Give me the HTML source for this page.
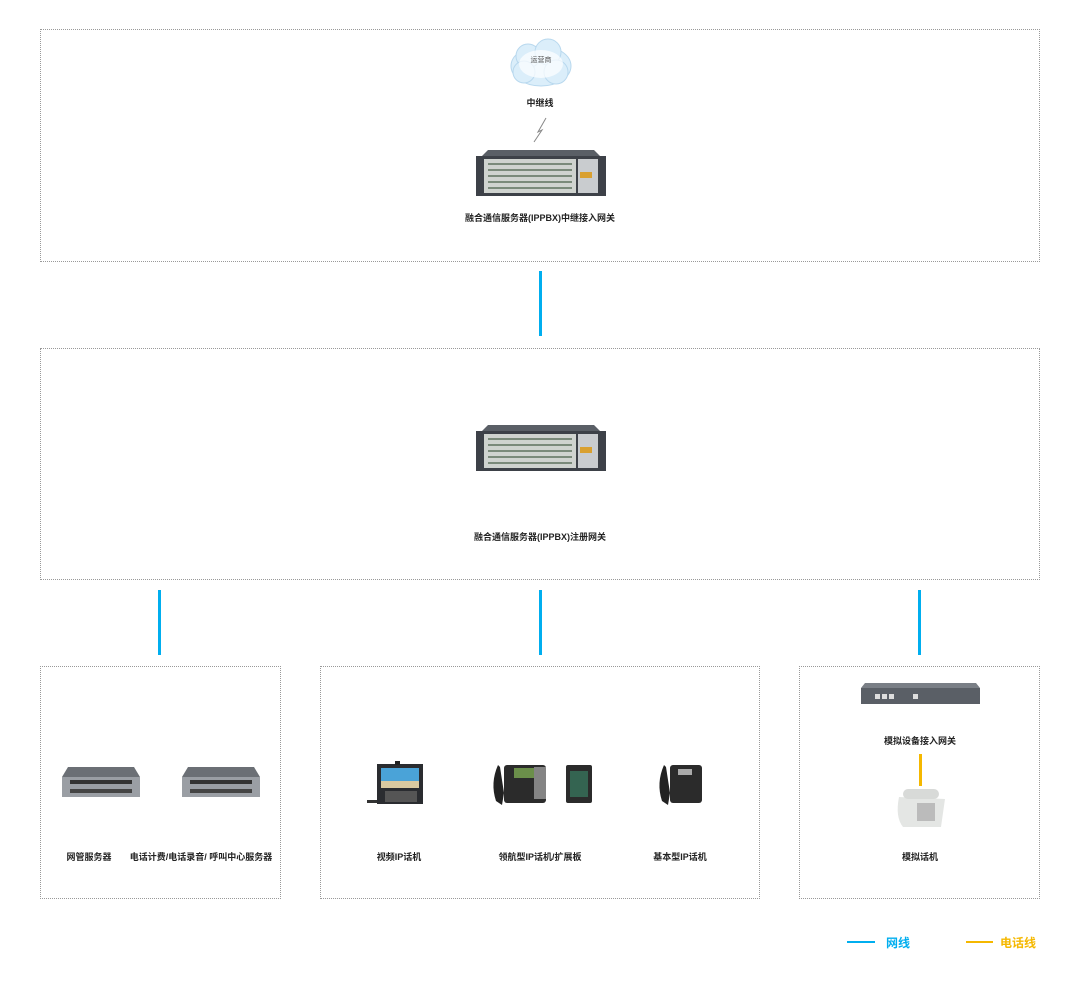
<!DOCTYPE html>
<html><head><meta charset="utf-8"><style>
body{margin:0;width:1080px;height:986px;background:#fff;position:relative;font-family:"Liberation Sans","Noto Sans CJK SC",sans-serif;overflow:hidden}
.box{position:absolute;border:1px dotted #999;box-sizing:border-box}
.lbl{position:absolute;font-size:9px;font-weight:bold;color:#222;white-space:nowrap;transform:translateX(-50%)}
.bl{position:absolute;width:3px;background:#00aeef}
.rack{position:absolute;width:130px;height:48px}
</style></head><body>
<div class="box" style="left:40px;top:29px;width:1000px;height:233px"></div>
<div class="box" style="left:40px;top:348px;width:1000px;height:232px"></div>
<div class="box" style="left:40px;top:666px;width:241px;height:233px"></div>
<div class="box" style="left:320px;top:666px;width:440px;height:233px"></div>
<div class="box" style="left:799px;top:666px;width:241px;height:233px"></div>

<div class="bl" style="left:539px;top:271px;height:65px"></div>
<div class="bl" style="left:158px;top:590px;height:65px"></div>
<div class="bl" style="left:539px;top:590px;height:65px"></div>
<div class="bl" style="left:918px;top:590px;height:65px"></div>
<div style="position:absolute;left:919px;top:754px;width:3px;height:32px;background:#f5b800"></div>

<svg style="position:absolute;left:508px;top:38px" width="66" height="52"><g fill="#dbeefa" stroke="#b8d8ee"><ellipse cx="33" cy="28" rx="30" ry="20"/><circle cx="20" cy="18" r="12"/><circle cx="40" cy="14" r="13"/><circle cx="16" cy="34" r="11"/><circle cx="48" cy="34" r="12"/></g><ellipse cx="33" cy="26" rx="22" ry="14" fill="#fff" opacity=".7"/><text x="33" y="24" font-size="7" text-anchor="middle" fill="#555">运营商</text></svg>
<div class="lbl" style="left:540px;top:96px">中继线</div>
<svg style="position:absolute;left:530px;top:116px" width="20" height="28"><polyline points="16,2 8,16 12,14 4,26" fill="none" stroke="#888" stroke-width="1"/></svg>

<svg class="rack" style="left:476px;top:150px" viewBox="0 0 130 48"><rect x="0" y="6" width="130" height="40" fill="#3d4148"/><polygon points="6,6 124,6 118,0 12,0" fill="#5a5f66"/><rect x="8" y="9" width="92" height="34" fill="#cfd3cf"/><g stroke="#7a8a7a" stroke-width="2"><line x1="12" y1="14" x2="96" y2="14"/><line x1="12" y1="20" x2="96" y2="20"/><line x1="12" y1="26" x2="96" y2="26"/><line x1="12" y1="32" x2="96" y2="32"/><line x1="12" y1="38" x2="96" y2="38"/></g><rect x="102" y="9" width="20" height="34" fill="#c9cccf"/><rect x="104" y="22" width="12" height="6" fill="#d9a030"/></svg>
<div class="lbl" style="left:540px;top:211px">融合通信服务器(IPPBX)中继接入网关</div>

<svg class="rack" style="left:476px;top:425px" viewBox="0 0 130 48"><rect x="0" y="6" width="130" height="40" fill="#3d4148"/><polygon points="6,6 124,6 118,0 12,0" fill="#5a5f66"/><rect x="8" y="9" width="92" height="34" fill="#cfd3cf"/><g stroke="#7a8a7a" stroke-width="2"><line x1="12" y1="14" x2="96" y2="14"/><line x1="12" y1="20" x2="96" y2="20"/><line x1="12" y1="26" x2="96" y2="26"/><line x1="12" y1="32" x2="96" y2="32"/><line x1="12" y1="38" x2="96" y2="38"/></g><rect x="102" y="9" width="20" height="34" fill="#c9cccf"/><rect x="104" y="22" width="12" height="6" fill="#d9a030"/></svg>
<div class="lbl" style="left:540px;top:530px">融合通信服务器(IPPBX)注册网关</div>

<svg style="position:absolute;left:60px;top:767px" width="82" height="31"><polygon points="8,0 74,0 80,10 2,10" fill="#6b6f75"/><rect x="2" y="10" width="78" height="20" fill="#9a9ea4"/><rect x="10" y="13" width="62" height="4" fill="#333"/><rect x="10" y="22" width="62" height="4" fill="#444"/></svg>
<svg style="position:absolute;left:180px;top:767px" width="82" height="31"><polygon points="8,0 74,0 80,10 2,10" fill="#6b6f75"/><rect x="2" y="10" width="78" height="20" fill="#9a9ea4"/><rect x="10" y="13" width="62" height="4" fill="#333"/><rect x="10" y="22" width="62" height="4" fill="#444"/></svg>
<div class="lbl" style="left:89px;top:850px">网管服务器</div>
<div class="lbl" style="left:201px;top:850px">电话计费/电话录音/ 呼叫中心服务器</div>

<svg style="position:absolute;left:367px;top:761px" width="58" height="44"><rect x="0" y="39" width="14" height="3" fill="#333"/><rect x="10" y="3" width="46" height="40" fill="#2a2c30"/><rect x="28" y="0" width="5" height="4" fill="#222"/><rect x="14" y="7" width="38" height="20" fill="#4aa3d8"/><rect x="14" y="20" width="38" height="7" fill="#d9c9a0"/><rect x="18" y="30" width="32" height="11" fill="#555"/></svg>
<div class="lbl" style="left:399px;top:850px">视频IP话机</div>
<svg style="position:absolute;left:490px;top:763px" width="105" height="45"><path d="M8,2 Q0,20 6,38 L12,42 L14,30 L10,4 Z" fill="#222"/><rect x="14" y="2" width="42" height="38" rx="3" fill="#2b2b2b"/><rect x="24" y="5" width="20" height="10" fill="#6b8f4a"/><rect x="44" y="4" width="12" height="32" fill="#ddd" opacity=".5"/><rect x="76" y="2" width="26" height="38" rx="2" fill="#2b2b2b"/><rect x="80" y="8" width="18" height="26" fill="#3a8a6a" opacity=".6"/></svg>
<div class="lbl" style="left:540px;top:850px">领航型IP话机/扩展板</div>
<svg style="position:absolute;left:656px;top:763px" width="48" height="45"><path d="M8,2 Q0,20 6,38 L12,42 L14,30 L10,4 Z" fill="#222"/><rect x="14" y="2" width="32" height="38" rx="3" fill="#2b2b2b"/><rect x="22" y="6" width="14" height="6" fill="#aaa"/></svg>
<div class="lbl" style="left:680px;top:850px">基本型IP话机</div>

<svg style="position:absolute;left:861px;top:683px" width="119" height="24"><polygon points="4,0 115,0 119,5 0,5" fill="#7a7f86"/><rect x="0" y="5" width="119" height="16" fill="#5a5f66"/><g fill="#ddd"><rect x="14" y="11" width="5" height="5"/><rect x="21" y="11" width="5" height="5"/><rect x="28" y="11" width="5" height="5"/><rect x="52" y="11" width="5" height="5"/></g></svg>
<div class="lbl" style="left:920px;top:734px">模拟设备接入网关</div>
<svg style="position:absolute;left:893px;top:787px" width="54" height="46"><path d="M6,10 Q2,30 10,40 L48,40 L52,12 Z" fill="#e4e6e4"/><rect x="10" y="2" width="36" height="10" rx="5" fill="#d8dad8"/><rect x="24" y="16" width="18" height="18" fill="#bbb"/></svg>
<div class="lbl" style="left:920px;top:850px">模拟话机</div>

<div style="position:absolute;left:847px;top:941px;width:28px;height:2px;background:#00aeef"></div>
<div style="position:absolute;left:886px;top:934px;font-size:12px;font-weight:bold;color:#00aeef">网线</div>
<div style="position:absolute;left:966px;top:941px;width:27px;height:2px;background:#f5b800"></div>
<div style="position:absolute;left:1000px;top:934px;font-size:12px;font-weight:bold;color:#f5b800">电话线</div>
</body></html>
